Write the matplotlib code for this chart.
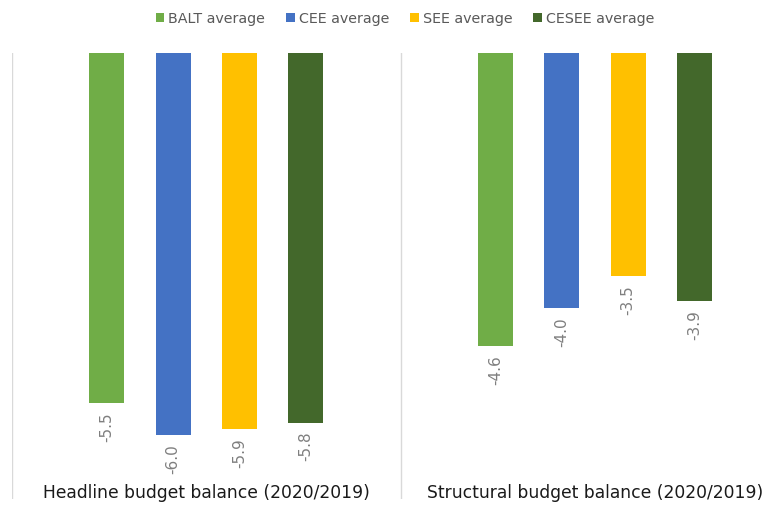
import matplotlib
matplotlib.use("Agg")
import matplotlib.pyplot as plt
import numpy as np

categories = ["Headline budget balance (2020/2019)", "Structural budget balance (2020/2019)"]
series_names = ["BALT average", "CEE average", "SEE average", "CESEE average"]
balt = [-5.5, -4.6]
cee = [-6.0, -4.0]
see = [-5.9, -3.5]
cesee = [-5.8, -3.9]
colors = ["#70AD47", "#4472C4", "#FFC000", "#43682B"]

plt.rcParams['font.family'] = ['DejaVu Sans']

W, H = 778, 505
fig = plt.figure(figsize=(W / 100, H / 100), dpi=100)
left_px, top_px, bottom_px = 12, 53, 499
ax = fig.add_axes([left_px / W, 1 - bottom_px / H, (W - left_px) / W, (bottom_px - top_px) / H])

unit_px = 388.6
ax.set_xlim(-0.5, -0.5 + (W - left_px) / unit_px)
ax.set_ylim(-7.0, 0)

x = np.arange(len(categories))
bar_w = 35 / unit_px
step = 66.3 / unit_px
offsets = (np.arange(4) - 1.5) * step
all_series = [balt, cee, see, cesee]
for vals, name, col, off in zip(all_series, series_names, colors, offsets):
    bars = ax.bar(x + off, vals, width=bar_w, color=col, label=name, zorder=2)
    for rect, v in zip(bars, vals):
        ax.annotate(f"{v:.1f}", xy=(rect.get_x() + rect.get_width() / 2, v),
                    xytext=(0, -6.5), textcoords="offset points",
                    ha="center", va="top", rotation=90, fontsize=11, color="#7F7F7F")

# category dividers
for d in [-0.5, 0.5, 1.5]:
    ax.axvline(d, color="#D9D9D9", linewidth=1, zorder=1)

ax.set_xticks(x)
ax.set_xticklabels(categories, fontsize=12.3, color="#1A1A1A")
ax.tick_params(axis='x', length=0, pad=-11)
ax.set_yticks([])
for s in ax.spines.values():
    s.set_visible(False)

leg = fig.legend(loc="center", bbox_to_anchor=(0.5 + 16 / W, 1 - 19 / H), ncol=4, frameon=False,
                 fontsize=10.3, handlelength=0.6, handleheight=0.6, handletextpad=0.3,
                 columnspacing=1.45, labelcolor="#595959")

fig.savefig("out.png", dpi=100)
